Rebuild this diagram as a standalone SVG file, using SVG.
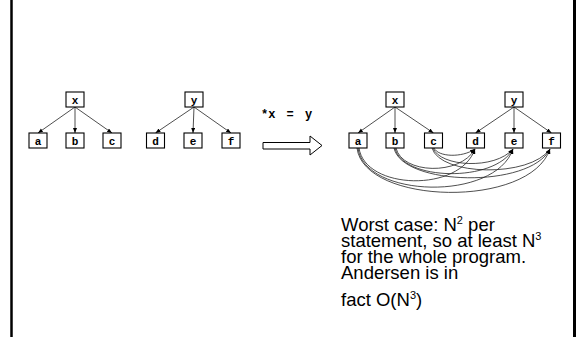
<svg xmlns="http://www.w3.org/2000/svg" width="577" height="337" viewBox="0 0 577 337">
  <style>
    .box { fill: #ffffff; stroke: #000000; stroke-width: 1.1; }
    .lbl { font-family: "Liberation Mono", "Courier New", monospace; font-weight: bold; font-size: 11px; fill: #000000; text-anchor: middle; }
    .edge { fill: none; stroke: #222222; stroke-width: 0.8; marker-end: url(#tip); }
    .note { font-family: "Liberation Sans", Arial, sans-serif; font-size: 18.5px; fill: #000000; }
    .frame { stroke: #000000; }
  </style>
  <defs>
    <marker id="tip" markerUnits="userSpaceOnUse" markerWidth="6" markerHeight="5" refX="5" refY="2" orient="auto">
      <path d="M0,0 L5,2 L0,4 z" fill="#000000"/>
    </marker>
  </defs>

  <rect width="577" height="337" fill="#ffffff"/>

  <!-- page borders -->
  <line class="frame" x1="11.5" y1="0" x2="11.5" y2="337" stroke-width="2.5"/>
  <line class="frame" x1="574.5" y1="0" x2="574.5" y2="337" stroke-width="3"/>

  <!-- connectors -->
  <g id="connectors">
    <!-- before: x -> a b c, y -> d e f -->
    <path class="edge" d="M75,107 L38,133"/>
    <path class="edge" d="M75,107 L75,133"/>
    <path class="edge" d="M75,107 L112,133"/>
    <path class="edge" d="M194,107 L155.5,133"/>
    <path class="edge" d="M194,107 L193,133"/>
    <path class="edge" d="M194,107 L231,133"/>
    <!-- after: original points-to edges -->
    <path class="edge" d="M395,107 L358,133"/>
    <path class="edge" d="M395,107 L395,133"/>
    <path class="edge" d="M395,107 L433.5,133"/>
    <path class="edge" d="M514,107 L475.5,133"/>
    <path class="edge" d="M514,107 L514,133"/>
    <path class="edge" d="M514,107 L551.5,133"/>
    <!-- after: edges added by *x = y -->
    <path class="edge" d="M434,148 C438,157 462,158 475,149"/>
    <path class="edge" d="M433,148 C440,167 495,170 513,149"/>
    <path class="edge" d="M432,148 C440,176 530,178 550,149"/>
    <path class="edge" d="M396,148 C402,174 460,176 475,149"/>
    <path class="edge" d="M395,148 C402,181 495,183 513,149"/>
    <path class="edge" d="M394,148 C402,186 530,189 550,149"/>
    <path class="edge" d="M359,148 C365,190 460,193 475,149"/>
    <path class="edge" d="M358,148 C364,198 495,202 513,149"/>
    <path class="edge" d="M357,148 C364,205 530,209 550,149"/>
  </g>

  <!-- before assignment -->
  <g id="node-x1"><rect class="box" x="66" y="92" width="18" height="15"/><text class="lbl" x="75" y="103.5">x</text></g>
  <g id="node-a1"><rect class="box" x="29" y="133" width="18" height="15"/><text class="lbl" x="38" y="144.5">a</text></g>
  <g id="node-b1"><rect class="box" x="66" y="133" width="18" height="15"/><text class="lbl" x="75" y="144.5">b</text></g>
  <g id="node-c1"><rect class="box" x="103" y="133" width="18" height="15"/><text class="lbl" x="112" y="144.5">c</text></g>
  <g id="node-y1"><rect class="box" x="185" y="92" width="18" height="15"/><text class="lbl" x="194" y="103.5">y</text></g>
  <g id="node-d1"><rect class="box" x="146.5" y="133" width="18" height="15"/><text class="lbl" x="155.5" y="144.5">d</text></g>
  <g id="node-e1"><rect class="box" x="184" y="133" width="18" height="15"/><text class="lbl" x="193" y="144.5">e</text></g>
  <g id="node-f1"><rect class="box" x="222" y="133" width="18" height="15"/><text class="lbl" x="231" y="144.5">f</text></g>

  <!-- statement and transition arrow -->
  <g id="statement">
    <text class="lbl" x="261" y="118" style="text-anchor:start; font-size:12px; word-spacing:4px" xml:space="preserve">*x = y</text>
    <polygon points="263,142.5 310,142.5 310,136 322,145.5 310,155 310,149 263,149" fill="#ffffff" stroke="#000000" stroke-width="1"/>
  </g>

  <!-- after assignment -->
  <g id="node-x2"><rect class="box" x="386" y="92" width="18" height="15"/><text class="lbl" x="395" y="103.5">x</text></g>
  <g id="node-a2"><rect class="box" x="349" y="133" width="18" height="15"/><text class="lbl" x="358" y="144.5">a</text></g>
  <g id="node-b2"><rect class="box" x="386" y="133" width="18" height="15"/><text class="lbl" x="395" y="144.5">b</text></g>
  <g id="node-c2"><rect class="box" x="424.5" y="133" width="18" height="15"/><text class="lbl" x="433.5" y="144.5">c</text></g>
  <g id="node-y2"><rect class="box" x="505" y="92" width="18" height="15"/><text class="lbl" x="514" y="103.5">y</text></g>
  <g id="node-d2"><rect class="box" x="466.5" y="133" width="18" height="15"/><text class="lbl" x="475.5" y="144.5">d</text></g>
  <g id="node-e2"><rect class="box" x="505" y="133" width="18" height="15"/><text class="lbl" x="514" y="144.5">e</text></g>
  <g id="node-f2"><rect class="box" x="542.5" y="133" width="18" height="15"/><text class="lbl" x="551.5" y="144.5">f</text></g>

  <!-- complexity note -->
  <g id="note">
    <text class="note" x="341" y="231">Worst case: N<tspan font-size="11" dy="-7">2</tspan><tspan dy="7"> per</tspan></text>
    <text class="note" x="341" y="247">statement, so at least N<tspan font-size="11" dy="-7">3</tspan></text>
    <text class="note" x="341" y="263">for the whole program.</text>
    <text class="note" x="341" y="279">Andersen is in</text>
    <text class="note" x="341" y="306">fact O(N<tspan font-size="11" dy="-7">3</tspan><tspan dy="7">)</tspan></text>
  </g>
</svg>
